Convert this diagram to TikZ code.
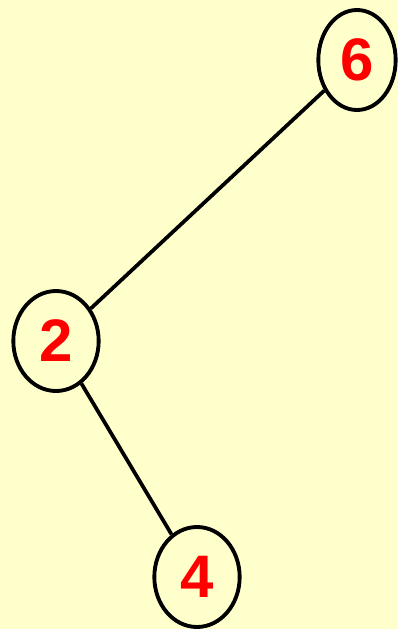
\documentclass[tikz,border=0pt]{standalone}
\usepackage{fontspec}
\setmainfont{Liberation Sans}
\definecolor{bg}{HTML}{FFFFCC}
\definecolor{keyred}{HTML}{FF0000}
\usetikzlibrary{shapes.geometric}
\tikzset{
  key/.style={draw=black,ellipse,line width=2.9pt,fill=bg,inner sep=0pt,
    minimum width=64pt,minimum height=75pt,
    font=\fontsize{45}{45}\selectfont\bfseries,text=keyred},
  link/.style={draw=black,line width=2.8pt},
}
\begin{document}
\begin{tikzpicture}[x=0.75pt,y=-0.75pt]
\fill[bg] (0,0) rectangle (398,629);
\useasboundingbox (0,0) rectangle (398,629);
\node[key,minimum width=58pt] (n6) at (357,60) {6};
\node[key] (n2) at (56,341) {2};
\node[key] (n4) at (197,577) {4};
\draw[link] (n6) -- (n2);
\draw[link] (n2) -- (n4);
\end{tikzpicture}
\end{document}
